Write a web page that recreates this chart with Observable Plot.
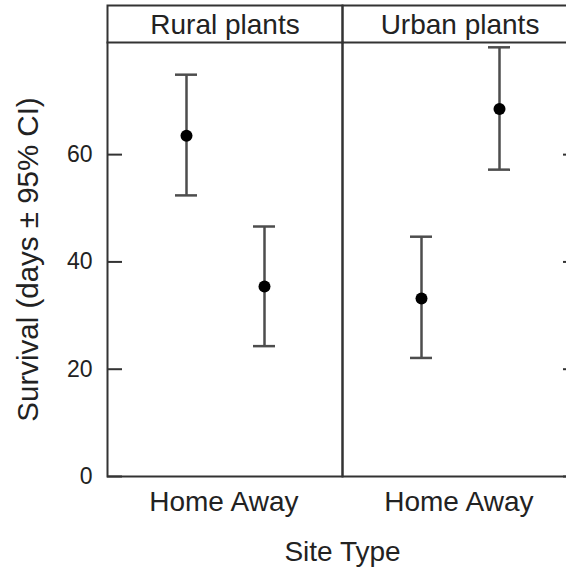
<!DOCTYPE html>
<html>
<head>
<meta charset="utf-8">
<script src="https://cdn.jsdelivr.net/npm/d3@7"></script>
<script src="https://cdn.jsdelivr.net/npm/@observablehq/plot@0.6"></script>
<style>
  html, body { margin: 0; padding: 0; background: white; overflow: hidden; }
  #chart svg g[aria-label="y-axis label"] text { font-size: 29.5px; }
  #chart svg g[aria-label="x-axis tick label"] text { font-size: 28px; }
  #chart svg g[aria-label="fx-axis label"] text { font-size: 28px; }
</style>
</head>
<body>
<div id="chart"></div>
<script>
// Data
const facets = ["Rural plants", "Urban plants"];
const siteTypes = ["Home", "Away"];
const plantOrigin = ["Rural plants", "Rural plants", "Urban plants", "Urban plants"];
const siteType = ["Home", "Away", "Home", "Away"];
const survival = [63.5, 35.4, 33.2, 68.5];
const ciLower = [52.4, 24.3, 22.1, 57.2];
const ciUpper = [74.9, 46.6, 44.7, 80.0];
const yTicks = [0, 20, 40, 60];
const yMax = 80.9;
const yLabel = "Survival (days ± 95% CI)";
const xLabel = "Site Type";

const rows = plantOrigin.map((p, i) => ({
  origin: p, type: siteType[i], mean: survival[i], lo: ciLower[i], hi: ciUpper[i]
}));

const lineColor = "#333";
const barColor = "#4d4d4d";

const chart = Plot.plot({
  width: 580,
  height: 569,
  marginLeft: 107,
  marginRight: 3,
  marginTop: 42,
  marginBottom: 93,
  style: { maxWidth: "none", fontFamily: "'Liberation Sans', Arial, sans-serif", fontSize: "23px", color: "#222", background: "white" },
  fx: { domain: facets, padding: 0 },
  x: { type: "band", domain: siteTypes, paddingInner: 0.719, paddingOuter: 0.8595 },
  y: { domain: [0, yMax] },
  marks: [
    Plot.frame({ insetTop: -37, stroke: lineColor, strokeWidth: 2 }),
    Plot.frame({ anchor: "top", stroke: lineColor, strokeWidth: 2 }),
    Plot.text(facets, { fx: d => d, text: d => d, frameAnchor: "top", lineAnchor: "middle", dy: -17, fontSize: 28, fill: "#222" }),
    Plot.axisY({ anchor: "left", ticks: yTicks, tickSize: 0, tickPadding: 15, label: yLabel, labelAnchor: "center", labelArrow: "none", labelOffset: 90, fontSize: 23 }),
    Plot.axisY({ anchor: "left", ticks: yTicks, tickSize: 15, dx: 15, fill: "none", label: null, stroke: lineColor, strokeWidth: 2 }),
    Plot.axisY({ anchor: "right", ticks: yTicks, tickSize: 15, dx: -15, fill: "none", label: null, stroke: lineColor, strokeWidth: 2 }),
    Plot.axisX({ anchor: "bottom", tickSize: 0, tickPadding: 15, label: null, fontSize: 28 }),
    Plot.axisFx({ anchor: "bottom", tickSize: 0, tickFormat: () => "", label: xLabel, labelAnchor: "center", labelArrow: "none", labelOffset: 84 }),
    Plot.ruleX(rows, { fx: "origin", x: "type", y1: "lo", y2: "hi", stroke: barColor, strokeWidth: 2.5 }),
    Plot.tickY(rows, { fx: "origin", x: "type", y: "lo", stroke: barColor, strokeWidth: 2.5 }),
    Plot.tickY(rows, { fx: "origin", x: "type", y: "hi", stroke: barColor, strokeWidth: 2.5 }),
    Plot.dot(rows, { fx: "origin", x: "type", y: "mean", r: 6, fill: "black", stroke: "none" })
  ]
});
document.getElementById("chart").appendChild(chart);
</script>
</body>
</html>
